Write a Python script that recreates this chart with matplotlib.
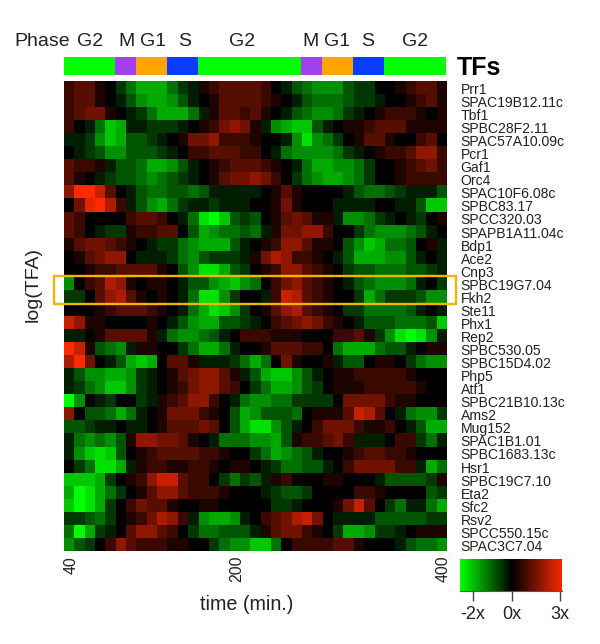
import numpy as np
import matplotlib
matplotlib.use('Agg')
import matplotlib.pyplot as plt
from matplotlib.colors import LinearSegmentedColormap
from matplotlib.patches import Rectangle

plt.rcParams['font.family'] = ['Liberation Sans', 'DejaVu Sans']

# transcription factors, top to bottom
tf_names = ['Prr1', 'SPAC19B12.11c', 'Tbf1', 'SPBC28F2.11', 'SPAC57A10.09c', 'Pcr1', 'Gaf1', 'Orc4',
            'SPAC10F6.08c', 'SPBC83.17', 'SPCC320.03', 'SPAPB1A11.04c', 'Bdp1', 'Ace2', 'Cnp3',
            'SPBC19G7.04', 'Fkh2', 'Ste11', 'Phx1', 'Rep2', 'SPBC530.05', 'SPBC15D4.02', 'Php5', 'Atf1',
            'SPBC21B10.13c', 'Ams2', 'Mug152', 'SPAC1B1.01', 'SPBC1683.13c', 'Hsr1', 'SPBC19C7.10',
            'Eta2', 'Sfc2', 'Rsv2', 'SPCC550.15c', 'SPAC3C7.04']

# time points 40..400 every 10 min
times = list(range(40, 401, 10))

# heat values, -9 = full green, 9 = full red
# first 18 time points
tfa_left = [
    [2, 3, 3, 1, 0, -2, -4, -6, -6, -6, -4, -2, -1, 1, 2, 3, 3, 3],
    [2, 3, 3, 1, 0, -1, -3, -5, -6, -6, -5, -3, -1, 0, 1, 3, 3, 3],
    [2, 3, 4, 4, 1, 0, -1, -2, -4, -6, -6, -6, -4, -1, 1, 3, 3, 2],
    [2, 0, -1, -4, -7, -6, -1, -1, -2, -2, -2, -1, 0, 1, 2, 4, 5, 4],
    [-1, -1, -2, -5, -7, -6, -3, -3, -2, -1, 0, 1, 4, 4, 5, 2, 2, 2],
    [0, -1, -2, -3, -5, -5, -3, -3, -3, -2, -1, 0, 2, 2, 3, 3, 3, 2],
    [3, 2, 2, 1, -1, -3, -3, -4, -6, -6, -5, -3, -1, 0, 1, 2, 3, 3],
    [3, 1, 0, -1, -2, -3, -3, -4, -5, -4, -3, -2, -1, 0, 1, 3, 4, 4],
    [5, 9, 9, 7, 3, 0, -1, -3, -4, -4, -3, -3, -4, -3, -1, -1, -1, -1],
    [0, 4, 8, 9, 6, 2, -1, -3, -5, -6, -4, -2, -1, -1, -2, -1, -1, -1],
    [3, 2, 0, 0, 0, 0, 2, 3, 3, 2, 0, -1, -4, -8, -9, -7, -3, -2],
    [3, 2, 0, -1, -2, -2, 1, 2, 2, 3, 3, 0, -3, -6, -5, -4, -4, -3],
    [1, 3, 4, 4, 3, 2, 1, 0, -1, -2, -2, -4, -5, -6, -6, -6, -3, -1],
    [0, 1, 3, 4, 5, 5, 0, -1, -1, -1, -2, -4, -5, -3, -2, -2, -2, -1],
    [0, 0, 1, 2, 2, 3, 3, 3, 3, 1, 0, -3, -5, -8, -8, -6, -3, -2],
    [-5, 0, 2, 3, 6, 5, 1, 0, 1, 1, 0, -1, -3, -3, -5, -6, -7, -5],
    [-2, -2, 0, 3, 5, 6, 3, 1, 0, 1, 0, -1, -4, -8, -8, -5, -2, 0],
    [0, 0, 0, 1, 2, 3, 3, 3, 2, 1, 0, -1, -4, -6, -8, -7, -5, -2],
    [7, 5, 1, 1, 0, 0, 0, 0, 1, 0, -1, -3, -5, -6, -6, -3, -3, -2],
    [-1, -1, 0, 1, 3, 3, 3, 3, 1, -1, -4, -5, -5, -4, -3, -1, 0, 2],
    [9, 7, 1, -3, -4, -5, -1, 1, 1, 0, 0, -2, -4, -6, -6, -4, -1, 0],
    [6, 9, 4, 0, -1, -3, -6, -7, -6, 0, 3, 3, 1, -1, -1, -1, -2, -4],
    [-1, -3, -5, -5, -6, -6, -5, -2, -1, 0, 1, 3, 4, 5, 5, 3, 1, -1],
    [-1, -2, -4, -5, -7, -7, -5, -2, -1, 0, 1, 2, 4, 5, 5, 3, 2, 0],
    [-9, -5, 0, -1, -2, 0, 0, -2, -1, 1, 2, 3, 5, 5, 2, 0, -1, -4],
    [5, 0, -3, -3, -4, -6, -4, -1, 0, 1, 4, 4, 4, 2, 1, 0, -3, -6],
    [-3, -3, -2, -1, -1, 0, -1, -1, 0, 1, 3, 3, 3, 4, 3, 0, -3, -6],
    [-1, -4, -5, -4, -5, -3, 1, 5, 5, 4, 4, 3, 1, 0, -1, -4, -4, -4],
    [-1, -5, -7, -8, -7, -3, 0, 1, 2, 3, 3, 3, 3, 2, 2, 1, 0, 0],
    [0, -2, -4, -8, -8, -6, -1, 1, 2, 2, 1, 1, 2, 2, 1, 0, 1, 1],
    [-7, -7, -7, -6, -2, 0, 1, 2, 5, 7, 7, 3, 2, 2, 0, -2, -4, -2],
    [-6, -9, -8, -6, -4, -2, 0, 1, 3, 5, 5, 3, 2, 2, 2, 1, 0, 0],
    [-7, -9, -8, -6, -2, 0, 2, 4, 3, 3, 1, 0, 0, 1, 1, 0, 0, 0],
    [-2, -2, -3, -4, -2, 0, 1, 2, 4, 6, 5, 2, -1, -5, -6, -6, -5, -1],
    [-4, -9, -6, -2, -1, 0, 3, 5, 5, 3, 2, 0, -2, -4, -4, -3, -3, -3],
    [-5, -3, -2, 0, 2, 5, 3, 2, 2, 2, 1, 1, 0, 0, -2, -4, -5, -5],
]

# last 19 time points
tfa_right = [
    [3, 2, 0, -1, -3, -4, -5, -5, -5, -3, -2, -2, 0, 0, 1, 2, 3, 3, 1],
    [3, 2, 1, 0, -1, -3, -4, -4, -4, -3, -2, -2, -1, 0, 0, 1, 2, 3, 1],
    [3, 1, 0, -1, -3, -4, -5, -5, -4, -2, -1, 0, 1, 2, 2, 2, 1, 0, 1],
    [1, -1, -5, -6, -7, -7, -3, -1, 0, 1, 1, 2, 3, 3, 3, 1, 1, 1, 1],
    [1, 0, 0, -1, -5, -8, -5, -4, -2, 0, 1, 3, 3, 1, 0, 0, 2, 3, 0],
    [2, 0, -1, -4, -5, -5, -5, -5, -4, -2, -1, 0, 1, 2, 2, 3, 5, 5, 2],
    [3, 2, 1, 0, -1, -4, -6, -6, -5, -5, -4, -2, 0, 0, 1, 2, 3, 4, 2],
    [5, 4, 2, 0, -2, -4, -5, -6, -6, -5, -4, -2, 0, 0, 1, 2, 2, 2, 2],
    [-1, 0, 1, 3, 1, 0, 0, 0, 0, -1, -3, -4, -4, -3, -2, -1, -1, -1, -3],
    [0, 0, 1, 4, 1, 0, 0, 0, -1, -1, -1, -1, 0, 0, -1, -1, -3, -7, -7],
    [-3, 0, 1, 3, 4, 3, 1, 1, -1, -5, -5, -4, -2, -1, 0, -1, -2, 0, 1],
    [-4, -1, 1, 4, 4, 5, 5, 2, 0, 0, -2, -4, -5, -5, -5, -4, -3, -1, 0],
    [0, 1, 2, 5, 5, 3, 1, 1, 0, -3, -5, -7, -6, -4, -4, -3, 0, 1, -1],
    [1, 4, 6, 5, 2, 2, 1, 0, -1, -3, -6, -6, -6, -5, -5, -3, -1, 0, -1],
    [0, 1, 2, 5, 5, 3, 2, 1, 0, -2, -3, -3, -4, -4, -4, -3, -3, -2, -1],
    [-4, 0, 2, 4, 5, 3, 2, 1, 0, -1, -3, -4, -5, -5, -5, -4, -1, 0, -2],
    [0, -1, 2, 7, 6, 3, 2, 1, 0, 0, -2, -6, -4, -2, -2, -2, -3, -5, -5],
    [0, 1, 3, 5, 6, 3, 2, 1, 0, -2, -2, -4, -4, -4, -4, -3, -1, 0, -1],
    [-1, 0, 2, 3, 4, 5, 4, 2, 1, 0, -1, -3, -3, -3, -4, -4, -4, -3, -7],
    [2, 2, 1, 1, 1, 0, 0, 0, 2, 2, 3, 1, -2, -5, -8, -9, -8, -5, -1],
    [0, 1, 3, 3, 3, 2, 2, 0, -4, -6, -6, -6, -4, -3, -3, -1, 0, 1, 1],
    [-6, -4, 0, 4, 1, 0, 0, 1, -1, -3, -3, 0, 1, 1, 0, -2, -4, -5, -5],
    [-3, -6, -7, -7, -5, -3, -1, 0, 1, 1, 2, 2, 2, 2, 2, 1, 0, 0, 0],
    [-2, -4, -6, -6, -5, -3, -2, 0, 1, 1, 1, 2, 2, 2, 2, 2, 1, 0, 0],
    [-5, -5, -4, -4, -2, -2, -2, -2, 0, 4, 4, 4, 4, 2, 1, 1, 0, 0, 0],
    [-5, -3, -3, -3, -4, 0, 1, 1, 1, 3, 7, 6, 3, 0, -1, -4, -5, -5, -2],
    [-8, -8, -5, -3, -1, 0, 2, 4, 4, 4, 2, 1, 1, 2, 0, -1, -3, -6, -6],
    [-5, -5, -6, -3, 1, 2, 2, 3, 4, 2, -1, -1, -1, 0, 2, 2, -2, -4, -1],
    [-2, -4, -6, -5, -4, -3, -1, 0, 0, 1, 2, 3, 3, 2, 2, 1, 0, 0, 0],
    [0, -1, -2, -4, -4, -3, -3, -1, 0, 2, 4, 4, 4, 4, 2, 2, -1, -6, -4],
    [-3, -1, 1, 2, 0, 0, 0, 1, 1, 0, 0, 0, -1, -3, -3, -3, -3, -2, 1],
    [0, -1, -2, -3, -3, -2, 0, 0, 0, 0, 2, 2, 1, 0, 0, 0, 0, -3, -2],
    [0, 0, -2, -2, -1, 0, 0, 0, 1, 4, 7, 3, 0, -2, -4, -1, -1, -4, -6],
    [0, 2, 3, 4, 6, 7, 4, 0, -1, -1, -1, -1, -3, -3, -3, -3, -3, -2, -2],
    [-1, 1, 3, 4, 4, 2, 1, 0, -2, -6, -6, -5, -2, -2, -1, 0, 1, 1, 1],
    [-7, -7, -4, 0, 2, 2, 2, 2, 3, 3, 1, 0, 0, 0, -1, -3, -4, -4, -5],
]

# cell cycle phases: label and number of time points
phase_names = ['G2', 'M', 'G1', 'S', 'G2', 'M', 'G1', 'S', 'G2']
phase_lengths = [5, 2, 3, 3, 10, 2, 3, 3, 6]
phase_colors = {'G2': '#00ff00', 'M': '#a040f0', 'G1': '#ffa500', 'S': '#0a3cff'}
# labels are not centred on their segments in the original
phase_label_x = [90, 126, 153, 185, 242, 310, 337, 368, 415]

W, H = 600, 644
TXT = '#222222'


def px_axes(x0, y0, x1, y1):
    # axes from pixel box, y counted from the top
    return fig.add_axes([x0 / W, 1 - y1 / H, (x1 - x0) / W, (y1 - y0) / H])


def px_text(x, y, s, **kw):
    fig.text(x / W, 1 - y / H, s, color=kw.pop('color', TXT), **kw)


fig = plt.figure(figsize=(W / 100, H / 100), dpi=100)
cmap = LinearSegmentedColormap.from_list('gbr', ['#00ff00', '#000000', '#ff2a00'])

# main heatmap
tfa = np.hstack([np.array(tfa_left), np.array(tfa_right)])
ax = px_axes(63.5, 81, 446, 551)
ax.imshow(tfa, cmap=cmap, vmin=-9, vmax=9, aspect='auto', interpolation='nearest')
ax.set_yticks(np.arange(len(tf_names)) + 0.07)
ax.set_yticklabels(tf_names, fontsize=10.1, color=TXT)
ax.yaxis.tick_right()
ax.set_xticks([times.index(t) + 0.24 for t in (40, 200, 400)])
ax.set_xticklabels(['40', '200', '400'], rotation=90, fontsize=11.4, color=TXT)
ax.set_xlim(-0.5, len(times) - 0.5)
ax.set_ylim(len(tf_names) - 0.5, -0.5)
ax.tick_params(axis='both', length=0)
ax.tick_params(axis='y', pad=10.5)
ax.tick_params(axis='x', pad=3.5)
for s in ax.spines.values():
    s.set_visible(False)

# phase strip
ax_phase = px_axes(63.5, 57, 446, 75)
start = 0
for name, n in zip(phase_names, phase_lengths):
    ax_phase.barh(0, n, left=start, height=1, color=phase_colors[name])
    start += n
ax_phase.set_xlim(0, len(times))
ax_phase.set_ylim(-0.5, 0.5)
ax_phase.axis('off')
for name, x in zip(phase_names, phase_label_x):
    px_text(x, 41, name, ha='center', va='center', fontsize=14)

# colour key
ax_key = px_axes(460, 559, 562, 591)
key_lo, key_hi = -9, 8.65
ax_key.imshow(np.linspace(key_lo, key_hi, 200).reshape(1, -1), cmap=cmap, vmin=-9, vmax=9,
              aspect='auto', extent=[key_lo, key_hi, 0, 1])
ax_key.set_xticks([-6.75, 0, 8.3])
ax_key.set_xticklabels(['-2x', '0x', '3x'], fontsize=13, color=TXT)
ax_key.set_yticks([])
ax_key.tick_params(axis='x', length=7, width=1, color='#444444', pad=4)
for k, s in ax_key.spines.items():
    s.set_visible(k == 'bottom')
    s.set_color('#555555')

# other text
px_text(42, 41, 'Phase', ha='center', va='center', fontsize=14)
px_text(457, 68, 'TFs', ha='left', va='center', fontsize=18, fontweight='bold', color='black')
px_text(33, 285, 'log(TFA)', ha='center', va='center', rotation=90, fontsize=14)
px_text(247, 604, 'time (min.)', ha='center', va='center', fontsize=14.2)

# highlight box around SPBC19G7.04 and Fkh2
fig.add_artist(Rectangle((53.5 / W, 1 - 304 / H), 402.5 / W, 28.5 / H, transform=fig.transFigure,
                         fill=False, edgecolor='#f5b400', linewidth=1.7))

fig.savefig('out.png', dpi=100)
